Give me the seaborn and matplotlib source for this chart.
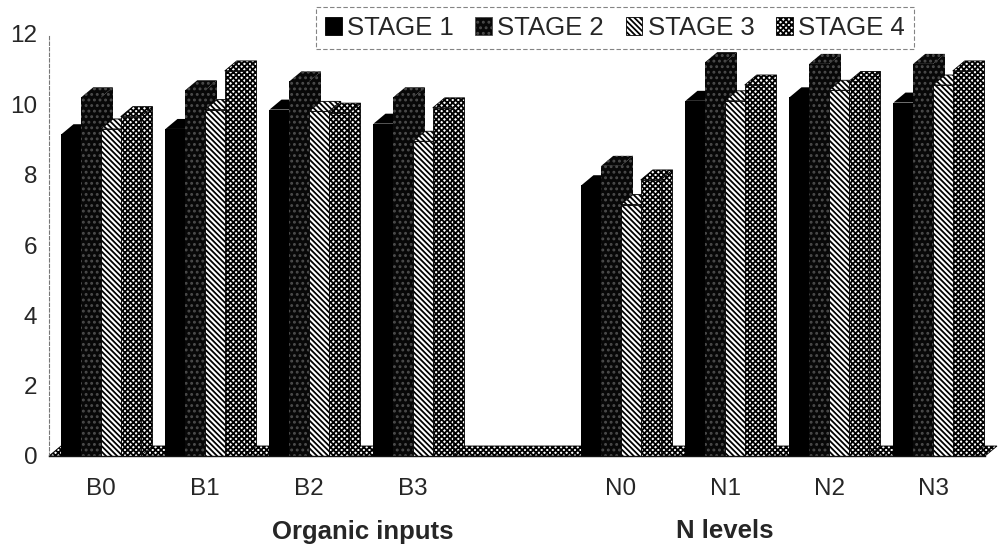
import numpy as np
import pandas as pd
import matplotlib
matplotlib.use("Agg")
import matplotlib.pyplot as plt
from matplotlib.patches import Polygon, Patch
import seaborn as sns

# ---- data -------------------------------------------------------------
categories = ["B0", "B1", "B2", "B3", "N0", "N1", "N2", "N3"]
axis_order = ["B0", "B1", "B2", "B3", " ", "N0", "N1", "N2", "N3"]
tick_labels = ["B0", "B1", "B2", "B3", "", "N0", "N1", "N2", "N3"]
stages = ["STAGE 1", "STAGE 2", "STAGE 3", "STAGE 4"]

stage1 = [9.15, 9.30, 9.85, 9.45, 7.70, 10.10, 10.20, 10.05]
stage2 = [10.20, 10.40, 10.65, 10.20, 8.25, 11.20, 11.15, 11.15]
stage3 = [9.30, 9.85, 9.80, 8.95, 7.15, 10.10, 10.40, 10.55]
stage4 = [9.65, 10.95, 9.75, 9.90, 7.85, 10.55, 10.65, 10.95]

group_titles = ["Organic inputs", "N levels"]

df = pd.DataFrame({
    "treatment": categories * 4,
    "stage": np.repeat(stages, len(categories)),
    "value": stage1 + stage2 + stage3 + stage4,
})

# ---- style ------------------------------------------------------------
sns.set_style("white")
plt.rcParams["font.family"] = ["Liberation Sans", "DejaVu Sans"]
plt.rcParams["hatch.linewidth"] = 1.3

# face colour, hatch pattern, hatch colour for each stage
styles = {
    "STAGE 1": ("#000000", "", "#000000"),
    "STAGE 2": ("#080808", "...", "#4c4c4c"),
    "STAGE 3": ("#ffffff", "\\\\\\\\\\\\", "#000000"),
    "STAGE 4": ("#ffffff", "xxxxxx", "#000000"),
}

W, H, DPI = 1007, 550, 100
fig = plt.figure(figsize=(W / DPI, H / DPI), dpi=DPI)
ax = fig.add_axes([49 / W, 1 - 456 / H, 936 / W, 422 / H])

sns.barplot(data=df, x="treatment", y="value", hue="stage",
            order=axis_order, hue_order=stages, width=0.76,
            ax=ax, legend=False, errorbar=None, saturation=1)

ax.set_xlim(-0.5, len(axis_order) - 0.5)
ax.set_ylim(0, 12)

# oblique depth of the pseudo-3D columns (in data units)
DX = 12 / 104
DY = 10 / 35.17

def style_patch(p, stage, lw=0.0):
    fc, hatch, hc = styles[stage]
    p.set_facecolor(fc)
    p.set_hatch(hatch)
    p.set_edgecolor(hc)
    p.set_linewidth(lw)

# floor of the chart
x0, x1 = -0.5, len(axis_order) - 0.5
floor = Polygon([[x0, 0], [x1, 0], [x1 + DX, DY], [x0 + DX, DY]],
                closed=True, clip_on=False, zorder=1)
style_patch(floor, "STAGE 4", lw=0.6)
ax.add_patch(floor)

for stage, cont in zip(stages, ax.containers):
    lw = 0.6 if stage in ("STAGE 3", "STAGE 4") else 0
    for bar in cont.patches:
        xl = bar.get_x()
        w = bar.get_width()
        h = bar.get_height()
        z = 3 + xl * 2
        style_patch(bar, stage, lw=lw)
        bar.set_zorder(z + 0.2)
        side = Polygon([[xl + w, 0], [xl + w + DX, DY], [xl + w + DX, h + DY], [xl + w, h]],
                       closed=True, clip_on=False, zorder=z)
        top = Polygon([[xl, h], [xl + w, h], [xl + w + DX, h + DY], [xl + DX, h + DY]],
                      closed=True, clip_on=False, zorder=z + 0.1)
        for face in (side, top):
            style_patch(face, stage, lw=lw)
            ax.add_patch(face)

# ---- axes -------------------------------------------------------------
ax.set_xlabel("")
ax.set_ylabel("")
ax.set_yticks(np.arange(0, 13, 2))
ax.set_yticklabels([str(v) for v in range(0, 13, 2)], fontsize=17.5)
ax.set_xticks(range(len(axis_order)))
ax.set_xticklabels(tick_labels, fontsize=17.5)
ax.set_xticks(np.arange(-0.5, len(axis_order), 1), minor=True)
ax.tick_params(axis="x", which="major", length=0, pad=16)
ax.tick_params(axis="x", which="minor", length=6, width=0.8, direction="out", color="#222222")
ax.tick_params(axis="y", length=4.5, width=0.8, direction="out", color="#555555", pad=4)

for s in ("top", "right"):
    ax.spines[s].set_visible(False)
ax.spines["left"].set_color("#777777")
ax.spines["left"].set_linewidth(0.8)
ax.spines["left"].set_linestyle((0, (3, 2)))
ax.spines["bottom"].set_color("#111111")
ax.spines["bottom"].set_linewidth(1.0)
ax.spines["bottom"].set_zorder(20)

fig.text(363 / W, 1 - 532 / H, group_titles[0], ha="center", va="center",
         fontsize=18.5, fontweight="bold")
fig.text(725 / W, 1 - 531 / H, group_titles[1], ha="center", va="center",
         fontsize=18.5, fontweight="bold")

# ---- legend -----------------------------------------------------------
handles = []
for stage in stages:
    fc, hatch, hc = styles[stage]
    handles.append(Patch(facecolor=fc, hatch=hatch, edgecolor=hc, linewidth=0.6))
leg = fig.legend(handles, stages, loc="upper left",
                 bbox_to_anchor=(316 / W, 1 - 7 / H), ncol=4, fontsize=18.5,
                 frameon=True, fancybox=False, handlelength=0.65, handleheight=0.75,
                 handletextpad=0.2, columnspacing=0.85, borderpad=0.35,
                 borderaxespad=0)
frame = leg.get_frame()
frame.set_edgecolor("#666666")
frame.set_linewidth(0.8)
frame.set_linestyle((0, (4, 2)))

fig.savefig("out.png", dpi=DPI)
